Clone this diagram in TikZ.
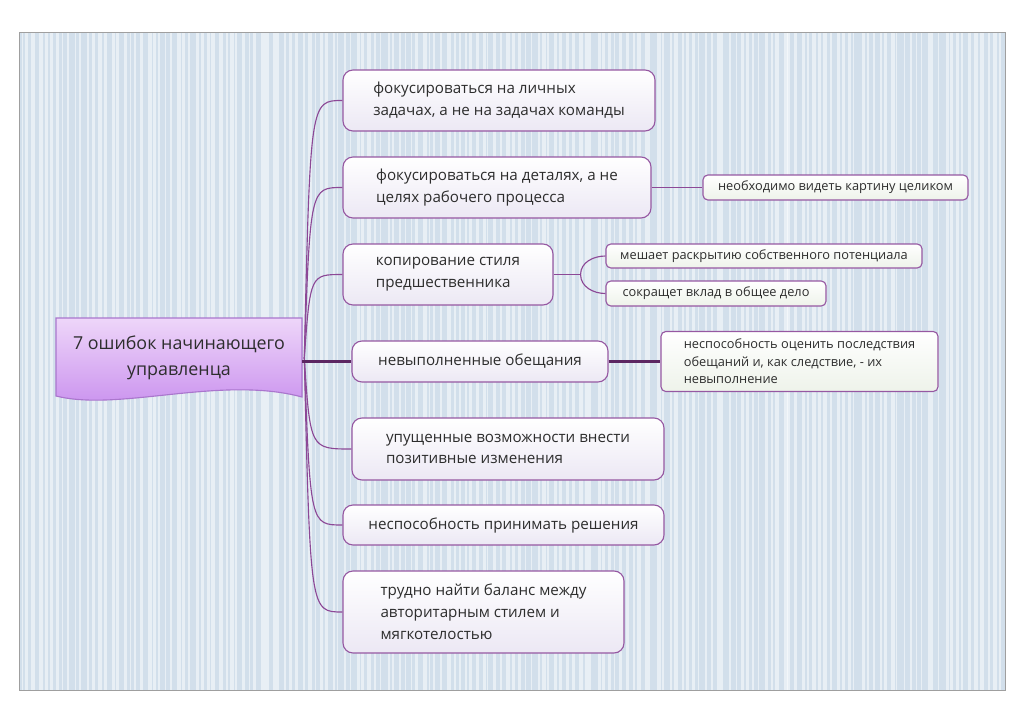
\documentclass[tikz,border=0pt]{standalone}
\usepackage{fontspec}
\setmainfont{Open Sans}
\usepackage{tikz}
\usetikzlibrary{positioning,calc}
\definecolor{mmpurple}{RGB}{140,72,150}
\definecolor{mmdark}{RGB}{92,38,98}
\definecolor{mmborder}{RGB}{150,88,162}
\definecolor{mmback}{RGB}{210,223,235}
\definecolor{mmrootlow}{RGB}{200,142,238}
\definecolor{mmroottop}{RGB}{238,214,249}
\definecolor{mmrootline}{RGB}{170,118,205}
\definecolor{mmboxlow}{RGB}{236,232,244}
\definecolor{mmsublow}{RGB}{238,243,234}
\definecolor{mmtext}{RGB}{45,45,45}

\begin{document}
\begin{tikzpicture}[x=0.25mm, y=-0.25mm,
    topic/.style={rectangle, rounded corners=2.5mm, draw=mmborder, line width=0.8pt,
        top color=white, bottom color=mmboxlow, text=mmtext, align=left,
        font=\fontsize{10.8}{15.5}\selectfont},
    subtopic/.style={rectangle, rounded corners=1.2mm, draw=mmborder, line width=0.8pt,
        top color=white, bottom color=mmsublow, text=mmtext, align=left,
        font=\fontsize{9.1}{12.4}\selectfont},
    branch/.style={mmpurple, line width=0.8pt},
    mainline/.style={mmdark, line width=1.6pt}]

    \useasboundingbox (0,0) rectangle (1024,723);

    % Striped background
    \begin{scope}
        \clip (19,32) rectangle (1005,690);
        \fill[mmback] (19,32) rectangle (1005,690);
        \pgfmathsetseed{7}
        \foreach \i in {0,...,165} {
            \pgfmathsetmacro{\sx}{19+\i*6+rnd*3}
            \pgfmathsetmacro{\sw}{1+rnd*3}
            \fill[white, opacity=0.5] (\sx,32) rectangle (\sx+\sw,690);
        }
    \end{scope}
    \draw[gray!75] (19,32) rectangle (1005,690);

    % Central topic
    \path[draw=mmrootline, line width=0.8pt, top color=mmroottop, bottom color=mmrootlow]
        (56,318) -- (302,318) -- (302,397) .. controls (220,375) and (120,412) .. (56,396) -- cycle;
    \node[minimum width=61.5mm, minimum height=20mm, align=center, text=mmtext,
        font=\fontsize{12.7}{18.5}\selectfont] (root) at (179,358)
        {7 ошибок начинающего\\управленца};

    % Main topics
    \node[topic, minimum width=78mm, minimum height=15.25mm] (b1) at (499,100.5)
        {фокусироваться на личных\\задачах, а не на задачах команды};
    \node[topic, minimum width=77mm, minimum height=15.25mm] (b2) at (497,187.5)
        {фокусироваться на деталях, а не\\целях рабочего процесса};
    \node[topic, minimum width=52.5mm, minimum height=15.25mm] (b3) at (448,274.5)
        {копирование стиля\\предшественника};
    \node[topic, minimum width=64mm, minimum height=10.25mm] (b4) at (480,361.5)
        {невыполненные обещания};
    \node[topic, minimum width=78mm, minimum height=15.5mm] (b5) at (508,449)
        {упущенные возможности внести\\позитивные изменения};
    \node[topic, minimum width=80.25mm, minimum height=10mm] (b6) at (503.5,525)
        {неспособность принимать решения};
    \node[topic, minimum width=70.25mm, minimum height=20.5mm] (b7) at (483.5,612)
        {трудно найти баланс между\\авторитарным стилем и\\мягкотелостью};

    % Subtopics
    \node[subtopic, minimum width=66.25mm, minimum height=6.25mm] (s2) at (835.5,187.5)
        {необходимо видеть картину целиком};
    \node[subtopic, minimum width=79mm, minimum height=6mm] (s3a) at (764,256)
        {мешает раскрытию собственного потенциала};
    \node[subtopic, minimum width=55mm, minimum height=6.25mm] (s3b) at (716,293.5)
        {сокращет вклад в общее дело};
    \node[subtopic, minimum width=69.25mm, minimum height=15mm] (s4) at (799.5,361.5)
        {неспособность оценить последствия\\обещаний и, как следствие, - их\\невыполнение};

    % Branches from the centre
    \coordinate (hub) at ([xshift=0.5mm]root.east);
    \coordinate (bend) at ([xshift=2mm]root.east);
    \foreach \b in {1,2,3,5,6,7} {
        \draw[branch] (hub) .. controls (bend |- b\b.west) and (bend |- b\b.west) .. (b\b.west);
    }
    \draw[mainline] (root.east |- b4.west) -- (b4.west);

    % Branches to subtopics
    \draw[branch] (b2.east) -- (s2.west);
    \coordinate (sj) at ([xshift=6.75mm]b3.east);
    \draw[branch] (b3.east) -- (sj);
    \draw[branch] (sj) to[out=90, in=180] (s3a.west);
    \draw[branch] (sj) to[out=-90, in=180] (s3b.west);
    \draw[mainline] (b4.east) -- (s4.west);
\end{tikzpicture}
\end{document}
